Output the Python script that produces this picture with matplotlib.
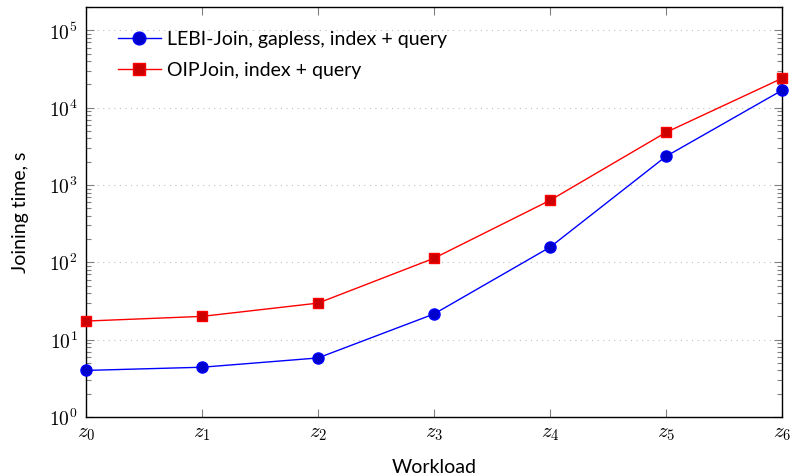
import numpy as np
import matplotlib.pyplot as plt
from matplotlib.ticker import LogLocator, NullFormatter

workloads = ['$z_0$', '$z_1$', '$z_2$', '$z_3$', '$z_4$', '$z_5$', '$z_6$']
lebi_join = [4.0, 4.4, 5.8, 21.5, 157, 2350, 16800]
oip_join = [17.4, 20, 29.7, 113, 634, 4800, 24000]

plt.rcParams['mathtext.fontset'] = 'cm'
plt.rcParams['font.family'] = ['Lato', 'DejaVu Sans']

fig = plt.figure(figsize=(7.92, 4.76), dpi=100)
ax = fig.add_axes([0.1086, 0.124, 0.8788, 0.861])

x = np.arange(len(workloads))
ax.plot(x, lebi_join, color='blue', lw=1, marker='o', ms=8,
        markerfacecolor='#0000cc', markeredgecolor='blue',
        label='LEBI-Join, gapless, index + query', clip_on=False, zorder=3)
ax.plot(x, oip_join, color='red', lw=1, marker='s', ms=7.5,
        markerfacecolor='#cc0000', markeredgecolor='red',
        label='OIPJoin, index + query', clip_on=False, zorder=3)

ax.set_yscale('log')
ax.set_ylim(1, 2e5)
ax.set_xlim(0, 6)
ax.set_xticks(x)
ax.set_xticklabels(workloads, fontsize=15)
ax.yaxis.set_major_locator(LogLocator(base=10, numticks=10))
ax.yaxis.set_minor_locator(LogLocator(base=10, subs=np.arange(2, 10), numticks=10))
ax.yaxis.set_minor_formatter(NullFormatter())
ax.set_yticks([1, 10, 100, 1e3, 1e4, 1e5])
ax.set_yticklabels(['$10^{%d}$' % i for i in range(6)], fontsize=14)

ax.tick_params(axis='both', which='both', direction='in', color='#808080',
               top=True, right=True)
ax.tick_params(axis='both', which='major', length=6, width=0.8, pad=6)
ax.tick_params(axis='y', which='minor', length=3.5, width=0.8)
ax.tick_params(axis='x', which='major', pad=4)

ax.grid(axis='y', which='major', linestyle=(0, (1, 4)), color='#c0c0c0', lw=0.8)

for s in ax.spines.values():
    s.set_linewidth(1)

ax.set_xlabel('Workload', fontsize=14, labelpad=12)
ax.set_ylabel('Joining time, s', fontsize=14, labelpad=14)

ax.legend(loc='upper left', frameon=False, fontsize=14, handlelength=2.2,
          handletextpad=0.3, borderaxespad=0.6, labelspacing=0.75,
          bbox_to_anchor=(0.018, 0.99), markerscale=1.15)

plt.savefig('out.png', dpi=100)
